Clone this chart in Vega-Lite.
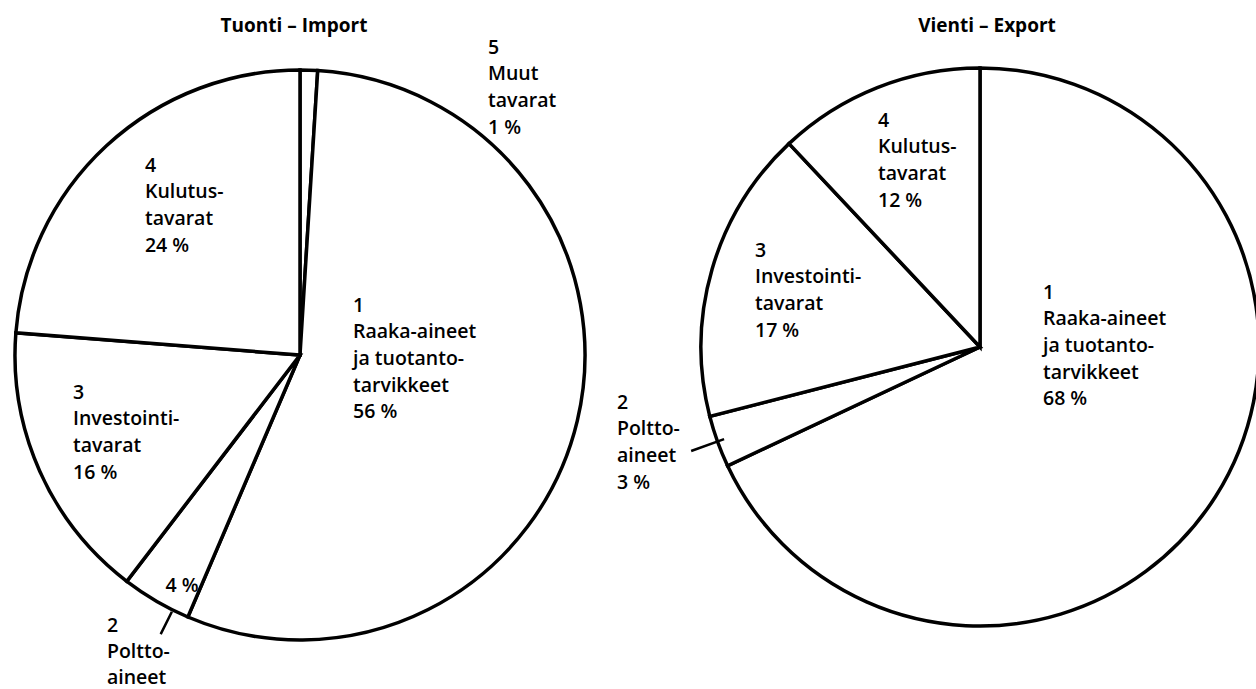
{
  "$schema": "https://vega.github.io/schema/vega-lite/v6.json",
  "background": "white",
  "padding": {"left": 0, "top": 17, "right": 0, "bottom": 0},
  "bounds": "flush",
  "spacing": 110,
  "config": {"view": {"stroke": null}, "font": "Open Sans"},
  "datasets": {
    "tuonti": [
      {"nro": 5, "jarjestys": 0, "osuus": 1, "nimi": "5\nMuut\ntavarat\n1 %", "sisa": ""},
      {"nro": 1, "jarjestys": 1, "osuus": 56, "nimi": "1\nRaaka-aineet\nja tuotanto-\ntarvikkeet\n56 %", "sisa": ""},
      {"nro": 2, "jarjestys": 2, "osuus": 4, "nimi": "2\nPoltto-\naineet", "sisa": "4 %"},
      {"nro": 3, "jarjestys": 3, "osuus": 16, "nimi": "3\nInvestointi-\ntavarat\n16 %", "sisa": ""},
      {"nro": 4, "jarjestys": 4, "osuus": 24, "nimi": "4\nKulutus-\ntavarat\n24 %", "sisa": ""}
    ],
    "vienti": [
      {"nro": 1, "jarjestys": 1, "osuus": 68, "nimi": "1\nRaaka-aineet\nja tuotanto-\ntarvikkeet\n68 %"},
      {"nro": 2, "jarjestys": 2, "osuus": 3, "nimi": "2\nPoltto-\naineet\n3 %"},
      {"nro": 3, "jarjestys": 3, "osuus": 17, "nimi": "3\nInvestointi-\ntavarat\n17 %"},
      {"nro": 4, "jarjestys": 4, "osuus": 12, "nimi": "4\nKulutus-\ntavarat\n12 %"}
    ]
  },
  "hconcat": [
    {
      "width": 600,
      "height": 638,
      "title": {"text": "Tuonti – Import", "fontSize": 19, "fontWeight": "bold", "anchor": "middle", "frame": "group", "dx": -6, "offset": 0, "color": "black"},
      "data": {"name": "tuonti"},
      "layer": [
        {
          "mark": {"type": "arc", "radius": 285, "fill": "white", "stroke": "black", "strokeWidth": 3.5},
          "encoding": {
            "theta": {"field": "osuus", "type": "quantitative", "stack": true},
            "order": {"field": "jarjestys", "type": "quantitative"}
          }
        },
        {
          "transform": [
            {"stack": "osuus", "groupby": [], "sort": [{"field": "jarjestys", "order": "ascending"}], "as": ["s0", "s1"]},
            {"filter": "datum.nro == 2"}
          ],
          "mark": {"type": "arc", "radius": 312, "radius2": 287, "padAngle": 1, "thetaOffset": -0.066, "theta2Offset": -0.066, "fillOpacity": 0, "stroke": "black", "strokeWidth": 2.5},
          "encoding": {
            "theta": {"field": "s0", "type": "quantitative", "stack": null},
            "theta2": {"field": "s1"}
          }
        },
        {
          "transform": [
            {"stack": "osuus", "groupby": [], "sort": [{"field": "jarjestys", "order": "ascending"}], "as": ["s0", "s1"]},
            {"filter": "datum.nro == 5"}
          ],
          "mark": {"type": "text", "radius": 300, "dx": 188, "dy": -16.4, "align": "left", "baseline": "top", "lineBreak": "\n", "fontSize": 19.5, "fontWeight": 600, "lineHeight": 26.7, "color": "black"},
          "encoding": {"theta": {"field": "s0", "type": "quantitative", "stack": null}, "text": {"field": "nimi", "type": "nominal"}}
        },
        {
          "transform": [
            {"stack": "osuus", "groupby": [], "sort": [{"field": "jarjestys", "order": "ascending"}], "as": ["s0", "s1"]},
            {"filter": "datum.nro == 1"}
          ],
          "mark": {"type": "text", "radius": 60, "dx": 49.3, "dy": 1.5, "align": "left", "baseline": "top", "lineBreak": "\n", "fontSize": 19.5, "fontWeight": 600, "lineHeight": 26.7, "color": "black"},
          "encoding": {"theta": {"field": "s0", "type": "quantitative", "stack": null}, "text": {"field": "nimi", "type": "nominal"}}
        },
        {
          "transform": [
            {"stack": "osuus", "groupby": [], "sort": [{"field": "jarjestys", "order": "ascending"}], "as": ["s0", "s1"]},
            {"filter": "datum.nro == 2"}
          ],
          "mark": {"type": "text", "radius": 250, "dx": -19.6, "dy": 1.2, "align": "center", "baseline": "middle", "fontSize": 19.5, "fontWeight": 600, "color": "black"},
          "encoding": {"theta": {"field": "s0", "type": "quantitative", "stack": null}, "text": {"field": "sisa", "type": "nominal"}}
        },
        {
          "transform": [
            {"stack": "osuus", "groupby": [], "sort": [{"field": "jarjestys", "order": "ascending"}], "as": ["s0", "s1"]},
            {"filter": "datum.nro == 2"}
          ],
          "mark": {"type": "text", "radius": 300, "dx": -75, "dy": -13.5, "align": "left", "baseline": "top", "lineBreak": "\n", "fontSize": 19.5, "fontWeight": 600, "lineHeight": 26, "color": "black"},
          "encoding": {"theta": {"field": "s0", "type": "quantitative", "stack": null}, "text": {"field": "nimi", "type": "nominal"}}
        },
        {
          "transform": [
            {"stack": "osuus", "groupby": [], "sort": [{"field": "jarjestys", "order": "ascending"}], "as": ["s0", "s1"]},
            {"filter": "datum.nro == 3"}
          ],
          "mark": {"type": "text", "radius": 100, "dx": -166.2, "dy": -50.8, "align": "left", "baseline": "top", "lineBreak": "\n", "fontSize": 19.5, "fontWeight": 600, "lineHeight": 26.7, "color": "black"},
          "encoding": {"theta": {"field": "s0", "type": "quantitative", "stack": null}, "text": {"field": "nimi", "type": "nominal"}}
        },
        {
          "transform": [
            {"stack": "osuus", "groupby": [], "sort": [{"field": "jarjestys", "order": "ascending"}], "as": ["s0", "s1"]},
            {"filter": "datum.nro == 4"}
          ],
          "mark": {"type": "text", "radius": 150, "dx": -5.5, "dy": -186.7, "align": "left", "baseline": "top", "lineBreak": "\n", "fontSize": 19.5, "fontWeight": 600, "lineHeight": 26.7, "color": "black"},
          "encoding": {"theta": {"field": "s0", "type": "quantitative", "stack": null}, "text": {"field": "nimi", "type": "nominal"}}
        }
      ]
    },
    {
      "width": 540,
      "height": 622,
      "title": {"text": "Vienti – Export", "fontSize": 19, "fontWeight": "bold", "anchor": "middle", "frame": "group", "dx": 7, "offset": 0, "color": "black"},
      "data": {"name": "vienti"},
      "layer": [
        {
          "mark": {"type": "arc", "radius": 279, "fill": "white", "stroke": "black", "strokeWidth": 3.5},
          "encoding": {
            "theta": {"field": "osuus", "type": "quantitative", "stack": true},
            "order": {"field": "jarjestys", "type": "quantitative"}
          }
        },
        {
          "transform": [
            {"stack": "osuus", "groupby": [], "sort": [{"field": "jarjestys", "order": "ascending"}], "as": ["s0", "s1"]},
            {"filter": "datum.nro == 2"}
          ],
          "mark": {"type": "arc", "radius": 307, "radius2": 272, "padAngle": 1, "fillOpacity": 0, "stroke": "black", "strokeWidth": 2.5},
          "encoding": {
            "theta": {"field": "s0", "type": "quantitative", "stack": null},
            "theta2": {"field": "s1"}
          }
        },
        {
          "transform": [
            {"stack": "osuus", "groupby": [], "sort": [{"field": "jarjestys", "order": "ascending"}], "as": ["s0", "s1"]},
            {"filter": "datum.nro == 1"}
          ],
          "mark": {"type": "text", "radius": 60, "dx": 63, "dy": -3.4, "align": "left", "baseline": "top", "lineBreak": "\n", "fontSize": 19.5, "fontWeight": 600, "lineHeight": 26.7, "color": "black"},
          "encoding": {"theta": {"field": "s0", "type": "quantitative", "stack": null}, "text": {"field": "nimi", "type": "nominal"}}
        },
        {
          "transform": [
            {"stack": "osuus", "groupby": [], "sort": [{"field": "jarjestys", "order": "ascending"}], "as": ["s0", "s1"]},
            {"filter": "datum.nro == 2"}
          ],
          "mark": {"type": "text", "radius": 320, "dx": -73.5, "dy": -89.7, "align": "left", "baseline": "top", "lineBreak": "\n", "fontSize": 19.5, "fontWeight": 600, "lineHeight": 26.7, "color": "black"},
          "encoding": {"theta": {"field": "s0", "type": "quantitative", "stack": null}, "text": {"field": "nimi", "type": "nominal"}}
        },
        {
          "transform": [
            {"stack": "osuus", "groupby": [], "sort": [{"field": "jarjestys", "order": "ascending"}], "as": ["s0", "s1"]},
            {"filter": "datum.nro == 3"}
          ],
          "mark": {"type": "text", "radius": 200, "dx": -31.3, "dy": -155.1, "align": "left", "baseline": "top", "lineBreak": "\n", "fontSize": 19.5, "fontWeight": 600, "lineHeight": 26.7, "color": "black"},
          "encoding": {"theta": {"field": "s0", "type": "quantitative", "stack": null}, "text": {"field": "nimi", "type": "nominal"}}
        },
        {
          "transform": [
            {"stack": "osuus", "groupby": [], "sort": [{"field": "jarjestys", "order": "ascending"}], "as": ["s0", "s1"]},
            {"filter": "datum.nro == 4"}
          ],
          "mark": {"type": "text", "radius": 200, "dx": 34.9, "dy": -89.6, "align": "left", "baseline": "top", "lineBreak": "\n", "fontSize": 19.5, "fontWeight": 600, "lineHeight": 26.7, "color": "black"},
          "encoding": {"theta": {"field": "s0", "type": "quantitative", "stack": null}, "text": {"field": "nimi", "type": "nominal"}}
        }
      ]
    }
  ]
}
